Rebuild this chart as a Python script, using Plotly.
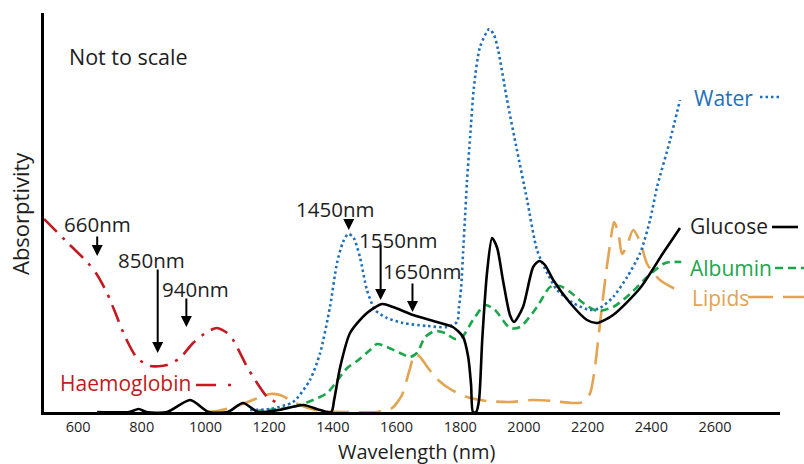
import plotly.graph_objects as go

# ---- spectra (wavelength in nm, absorptivity in arbitrary units) ----
hb_wl = [493, 565, 631, 660, 691, 716, 748, 785, 826, 879, 920, 961, 1005, 1036,
         1068, 1087, 1131, 1156, 1194, 1225, 1234]
hb_abs = [193, 170, 149, 137, 119, 100, 75, 54, 46, 47, 54, 69, 80, 84,
          79, 72, 45, 32, 15, 9, 5]

water_wl = [1140, 1203, 1275, 1328, 1360, 1391, 1413, 1432, 1448, 1464, 1485, 1507,
            1533, 1570, 1620, 1696, 1758, 1790, 1796, 1803, 1809, 1815, 1821, 1831,
            1843, 1862, 1891, 1906, 1919, 1947, 1978, 2010, 2041, 2073, 2104, 2154,
            2208, 2239, 2280, 2324, 2365, 2396, 2418, 2459, 2490]
water_abs = [2, 3, 10, 32, 59, 105, 149, 170, 178, 175, 155, 122,
             102, 94, 89, 86, 85, 90, 105, 125, 160, 195, 230, 275,
             325, 365, 383, 377, 362, 312, 262, 212, 162, 139, 122, 109,
             102, 104, 115, 135, 159, 192, 225, 272, 312]

glucose_wl = [660, 760, 790, 815, 880, 952, 1010, 1070, 1118, 1165, 1230, 1307,
              1360, 1395, 1404, 1423, 1454, 1507, 1555, 1589, 1652, 1727, 1777,
              1809, 1825, 1834, 1840, 1850, 1859, 1869, 1884, 1900, 1916, 1934,
              1956, 1969, 1997, 2029, 2048, 2066, 2092, 2145, 2198, 2230, 2280,
              2365, 2437, 2490]
glucose_abs = [0, 0, 3, 0, 0, 12, 0, 0, 9, 0, 2, 7,
               2, 0, 12, 45, 79, 99, 108, 105, 97, 90, 85,
               75, 55, 27, 0, 0, 12, 72, 139, 174, 164, 132,
               97, 90, 105, 145, 151, 147, 132, 109, 92, 89, 97,
               124, 159, 184]

albumin_wl = [1156, 1275, 1338, 1382, 1413, 1445, 1476, 1517, 1539, 1570, 1611, 1642,
              1664, 1690, 1721, 1752, 1784, 1806, 1840, 1878, 1909, 1956, 1988, 2041,
              2082, 2113, 2145, 2186, 2230, 2280, 2333, 2387, 2437, 2459, 2494]
albumin_abs = [1, 5, 12, 19, 31, 44, 51, 62, 68, 65, 59, 55,
               59, 75, 81, 79, 73, 75, 92, 107, 102, 84, 85, 105,
               125, 126, 120, 109, 101, 105, 118, 135, 148, 150, 150]

lipids_wl = [999, 1036, 1099, 1156, 1203, 1234, 1272, 1313, 1360, 1454, 1539, 1586,
             1617, 1639, 1658, 1674, 1699, 1727, 1768, 1821, 1884, 1956, 2029, 2092,
             2151, 2186, 2208, 2223, 2239, 2255, 2270, 2283, 2296, 2308, 2324, 2343,
             2365, 2387, 2427, 2493]
lipids_abs = [0, 1, 6, 13, 18, 17, 11, 5, 1, 0, 0, 4,
              17, 40, 58, 55, 44, 33, 23, 15, 11, 10, 12, 11,
              9, 10, 19, 45, 89, 132, 167, 190, 180, 158, 167, 182,
              170, 148, 132, 120]

tick_values = [600, 800, 1000, 1200, 1400, 1600, 1800, 2000, 2200, 2400, 2600]

# marked wavelengths: (label, wavelength, arrow tail, arrow tip, label x, label y)
markers = [
    ("660nm", 660, 177, 156, 661, 188),
    ("850nm", 850, 144, 59, 831, 152),
    ("940nm", 940, 115, 85, 970, 123),
    ("1450nm", 1450, 193, 182, 1407, 203),
    ("1550nm", 1550, 169, 112, 1603, 172),
    ("1650nm", 1650, 130, 100, 1679, 141),
]

RED = "#c21a20"
BLUE = "#1f70b8"
GREEN = "#1ca64c"
ORANGE = "#e3a452"
INK = "#1e1e1e"
FONT = "Open Sans"

W, H = 804, 464
ML, MR, MT, MB = 44, 24, 13, 52
X_RANGE = [493, 2804]
Y_RANGE = [0, 399]

fig = go.Figure()

def add_curve(wl, ab, color, dash, width=2.6):
    fig.add_trace(go.Scatter(
        x=wl, y=ab, mode="lines",
        line=dict(color=color, width=width, dash=dash, shape="spline", smoothing=0.7),
        hoverinfo="skip", showlegend=False))

add_curve(lipids_wl, lipids_abs, ORANGE, "22px,10px")
add_curve(albumin_wl, albumin_abs, GREEN, "8px,5px")
add_curve(water_wl, water_abs, BLUE, "2.5px,3px")
add_curve(hb_wl, hb_abs, RED, "18px,8px,3px,8px")
add_curve(glucose_wl, glucose_abs, "black", "solid", 2.6)

annotations = []
for label, wl, tail, tip, tx, ty in markers:
    annotations.append(dict(
        x=wl, y=tip, ax=wl, ay=tail, axref="x", ayref="y", xref="x", yref="y",
        text="", showarrow=True, arrowhead=2, arrowsize=1.1, arrowwidth=2,
        arrowcolor="black", standoff=0, startstandoff=0))
    annotations.append(dict(
        x=tx, y=ty, xref="x", yref="y", text=label, showarrow=False,
        font=dict(family=FONT, size=20.5, color=INK), xanchor="center", yanchor="middle"))


def px_x(p):
    return (p - ML) / (W - ML - MR)


def px_y(p):
    return (H - MB - p) / (H - MT - MB)


# series names drawn next to the curves
series_labels = [
    ("Water", BLUE, 692, 98),
    ("Glucose", INK, 688, 226),
    ("Albumin", GREEN, 688, 268),
    ("Lipids", ORANGE, 690, 298),
    ("Haemoglobin", RED, 58, 383),
]
for text, color, x0, y0 in series_labels:
    annotations.append(dict(
        x=px_x(x0), y=px_y(y0), xref="paper", yref="paper", text=text, showarrow=False,
        font=dict(family=FONT, size=21, color=color), xanchor="left", yanchor="middle"))

annotations += [
    dict(x=px_x(67), y=px_y(56), xref="paper", yref="paper", text="Not to scale",
         showarrow=False, font=dict(family=FONT, size=21.5, color=INK),
         xanchor="left", yanchor="middle"),
    dict(x=px_x(417), y=px_y(451), xref="paper", yref="paper", text="Wavelength (nm)",
         showarrow=False, font=dict(family=FONT, size=20, color=INK),
         xanchor="center", yanchor="middle", borderpad=0),
    dict(x=px_x(20), y=px_y(214), xref="paper", yref="paper", text="Absorptivity",
         showarrow=False, textangle=-90, font=dict(family=FONT, size=22, color=INK),
         xanchor="center", yanchor="middle"),
]

# line samples beside the series names
shapes = [
    dict(type="line", xref="paper", yref="paper", x0=px_x(760), x1=px_x(782),
         y0=px_y(97), y1=px_y(97), line=dict(color=BLUE, width=2.6, dash="2.5px,3px")),
    dict(type="line", xref="paper", yref="paper", x0=px_x(772), x1=px_x(798),
         y0=px_y(227), y1=px_y(227), line=dict(color="black", width=2.6)),
    dict(type="line", xref="paper", yref="paper", x0=px_x(775), x1=px_x(806),
         y0=px_y(268), y1=px_y(268), line=dict(color=GREEN, width=2.6, dash="8px,5px")),
    dict(type="line", xref="paper", yref="paper", x0=px_x(748), x1=px_x(806),
         y0=px_y(297), y1=px_y(297), line=dict(color=ORANGE, width=2.6, dash="25px,10px")),
    dict(type="line", xref="paper", yref="paper", x0=px_x(196), x1=px_x(233),
         y0=px_y(385), y1=px_y(385), line=dict(color=RED, width=2.6, dash="20px,12px,3px,8px")),
]

fig.update_layout(
    width=W, height=H,
    margin=dict(l=ML, r=MR, t=MT, b=MB),
    paper_bgcolor="white", plot_bgcolor="white",
    showlegend=False,
    annotations=annotations,
    shapes=shapes,
    xaxis=dict(range=X_RANGE, tickvals=tick_values, ticktext=[str(v) for v in tick_values],
               showgrid=False, zeroline=False, showline=True, linecolor="black", linewidth=3,
               ticks="", tickfont=dict(family=FONT, size=14.5, color=INK), fixedrange=True),
    yaxis=dict(range=Y_RANGE, showticklabels=False, showgrid=False, zeroline=False,
               showline=True, linecolor="black", linewidth=3, ticks="", fixedrange=True),
)

fig.write_html("out.html")
